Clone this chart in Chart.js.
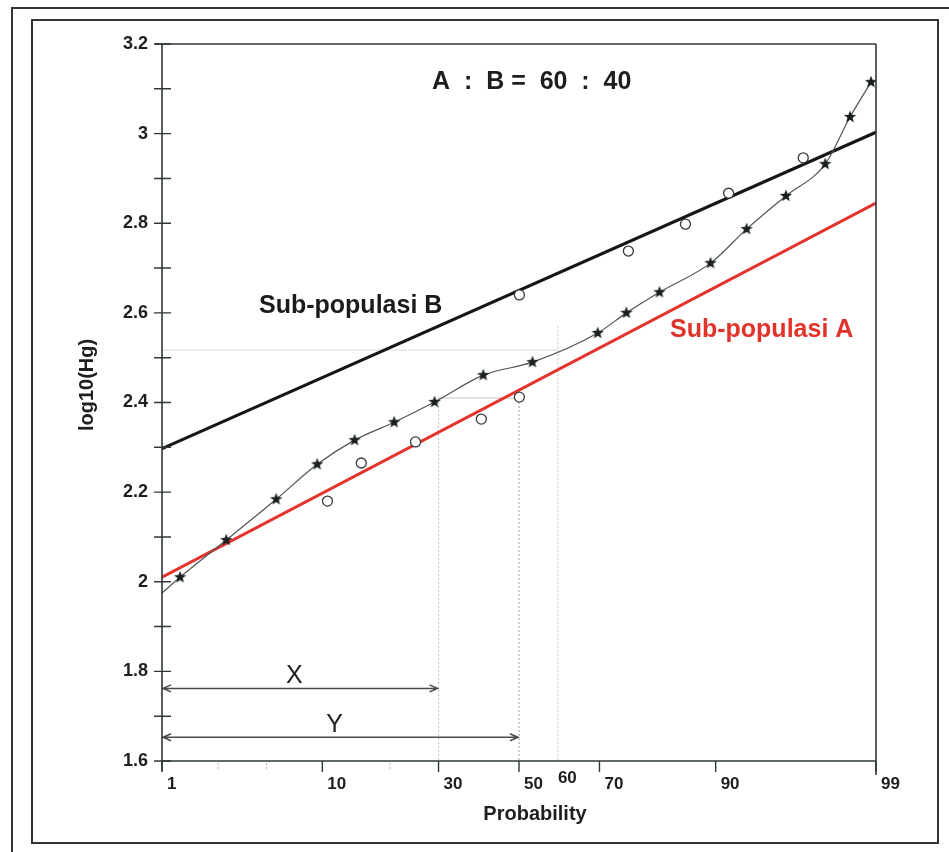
<!DOCTYPE html>
<html>
<head>
<meta charset="utf-8">
<title>Probability plot log10(Hg)</title>
<script src="https://cdn.jsdelivr.net/npm/chart.js@4.4.1/dist/chart.umd.min.js"></script>
<style>
    html, body { margin: 0; padding: 0; background: #ffffff; }
    #wrap { width: 949px; height: 852px; position: relative; }
</style>
</head>
<body>
<div id="wrap"><canvas id="probChart" width="949" height="852"></canvas></div>
<script>
// Observed data (stars) - probability in %, log10(Hg)
const starProb = [1.36, 2.82, 5.68, 9.43, 14.2, 20.8, 29.1, 40.8, 53.5, 69.6, 75.8, 82.0, 89.4, 93.1, 95.9, 97.7, 98.45, 98.91];
const starVal  = [2.01, 2.093, 2.184, 2.262, 2.316, 2.356, 2.401, 2.461, 2.49, 2.555, 2.60, 2.646, 2.711, 2.787, 2.861, 2.932, 3.037, 3.115];

// Open circles
const circleProb = [10.6, 15.2, 25.0, 40.3, 50.1, 50.1, 76.2, 86.1, 91.4, 96.8];
const circleVal  = [2.18, 2.265, 2.312, 2.363, 2.412, 2.64, 2.738, 2.798, 2.867, 2.946];

// Thin fitted curve through the stars
const curveProb = [1, 1.36, 2.82, 5.68, 9.43, 14.2, 20.8, 29.1, 40.8, 53.5, 69.6, 75.8, 82.0, 89.4, 93.1, 95.9, 97.7, 98.45, 98.91];
const curveVal  = [1.975, 2.01, 2.093, 2.184, 2.262, 2.316, 2.356, 2.401, 2.461, 2.49, 2.555, 2.60, 2.646, 2.711, 2.787, 2.861, 2.932, 3.037, 3.115];

// Sub-population straight lines
const lineProb = [1, 99];
const lineBVal = [2.297, 3.003];
const lineAVal = [2.01, 2.845];

// Axis ticks
const yMajor = [1.6, 1.8, 2, 2.2, 2.4, 2.6, 2.8, 3, 3.2];
const yMinor = [1.7, 1.9, 2.1, 2.3, 2.5, 2.7, 2.9, 3.1];
const xMajor = [1, 10, 30, 50, 70, 90, 99];
const xMinor = [2.5, 5, 20];
const xLabels = [1, 10, 30, 50, 60, 70, 90, 99];

// Guides and arrows (X to 30 %, Y to 50 %)
const guideProb = [30, 50, 60];
const guideTop = [2.41, 2.41, 2.57];
const arrowTo = [30, 50];
const arrowLevel = [1.762, 1.653];
const arrowText = ['X', 'Y'];

const FONT = '"Liberation Sans", Arial, sans-serif';

// inverse of the standard normal cdf (Acklam)
function probit(p) {
    const a = [-39.69683028665376, 220.9460984245205, -275.9285104469687, 138.3577518672690, -30.66479806614716, 2.506628277459239];
    const b = [-54.47609879822406, 161.5858368580409, -155.6989798598866, 66.80131188771972, -13.28068155288572];
    const c = [-0.007784894002430293, -0.3223964580411365, -2.400758277161838, -2.549732539343734, 4.374664141464968, 2.938163982698783];
    const d = [0.007784695709041462, 0.3224671290700398, 2.445134137142996, 3.754408661907416];
    const pl = 0.02425;
    let q, r;
    if (p < pl) {
        q = Math.sqrt(-2 * Math.log(p));
        return (((((c[0]*q+c[1])*q+c[2])*q+c[3])*q+c[4])*q+c[5]) / ((((d[0]*q+d[1])*q+d[2])*q+d[3])*q+1);
    }
    if (p > 1 - pl) {
        q = Math.sqrt(-2 * Math.log(1 - p));
        return -(((((c[0]*q+c[1])*q+c[2])*q+c[3])*q+c[4])*q+c[5]) / ((((d[0]*q+d[1])*q+d[2])*q+d[3])*q+1);
    }
    q = p - 0.5;
    r = q * q;
    return (((((a[0]*r+a[1])*r+a[2])*r+a[3])*r+a[4])*r+a[5])*q / (((((b[0]*r+b[1])*r+b[2])*r+b[3])*r+b[4])*r+1);
}

function toPoints(probs, vals) {
    return probs.map((p, i) => ({ x: probit(p / 100), y: vals[i] }));
}

// filled five point star used as point style
function makeStar(size, color) {
    const c = document.createElement('canvas');
    c.width = size; c.height = size;
    const g = c.getContext('2d');
    const cx = size / 2, cy = size / 2, R = size / 2 - 0.5, r = R * 0.42;
    g.beginPath();
    for (let i = 0; i < 10; i++) {
        const rad = i % 2 === 0 ? R : r;
        const ang = -Math.PI / 2 + i * Math.PI / 5;
        const px = cx + rad * Math.cos(ang), py = cy + rad * Math.sin(ang);
        if (i === 0) g.moveTo(px, py); else g.lineTo(px, py);
    }
    g.closePath();
    g.fillStyle = color;
    g.fill();
    return c;
}

const zMax = probit(0.99);

const decorPlugin = {
    id: 'decor',
    beforeDatasetsDraw(chart) {
        const ctx = chart.ctx;
        const xs = chart.scales.x, ys = chart.scales.y;
        const px = p => xs.getPixelForValue(probit(p / 100));
        const py = v => ys.getPixelForValue(v);
        ctx.save();
        // faint horizontal guides
        ctx.lineWidth = 1;
        ctx.strokeStyle = '#dcdcdc';
        ctx.beginPath();
        ctx.moveTo(px(1), py(2.517));
        ctx.lineTo(px(60), py(2.517));
        ctx.stroke();
        ctx.strokeStyle = '#c4c4c4';
        ctx.beginPath();
        ctx.moveTo(px(30), py(2.41));
        ctx.lineTo(px(50), py(2.41));
        ctx.stroke();
        // dotted verticals
        ctx.setLineDash([2, 2]);
        guideProb.forEach((p, i) => {
            ctx.strokeStyle = p === 50 ? '#9a9a9a' : '#c0c0c0';
            ctx.beginPath();
            ctx.moveTo(px(p), py(guideTop[i]));
            ctx.lineTo(px(p), py(1.6));
            ctx.stroke();
        });
        ctx.setLineDash([]);
        // X / Y arrows
        ctx.strokeStyle = '#4a4a4a';
        ctx.fillStyle = '#222';
        ctx.lineWidth = 1.5;
        arrowTo.forEach((p, i) => {
            const x0 = px(1) + 1, x1 = px(p) - 1, y = py(arrowLevel[i]);
            ctx.beginPath();
            ctx.moveTo(x0, y); ctx.lineTo(x1, y);
            ctx.moveTo(x0 + 8, y - 3.5); ctx.lineTo(x0, y); ctx.lineTo(x0 + 8, y + 3.5);
            ctx.moveTo(x1 - 8, y - 3.5); ctx.lineTo(x1, y); ctx.lineTo(x1 - 8, y + 3.5);
            ctx.stroke();
            ctx.font = '25px ' + FONT;
            ctx.textAlign = 'center';
            ctx.textBaseline = 'alphabetic';
            ctx.fillText(arrowText[i], (x0 + x1) / 2 - 6, y - 5);
        });
        ctx.restore();
    },
    afterDraw(chart) {
        const ctx = chart.ctx;
        const xs = chart.scales.x, ys = chart.scales.y;
        const px = p => xs.getPixelForValue(probit(p / 100));
        const py = v => ys.getPixelForValue(v);
        const area = chart.chartArea;
        ctx.save();

        // outer frames
        ctx.strokeStyle = '#333';
        ctx.lineWidth = 2;
        ctx.strokeRect(32, 20, 906, 823);
        ctx.beginPath();
        ctx.moveTo(12, 852); ctx.lineTo(12, 8); ctx.lineTo(949, 8);
        ctx.stroke();

        // plot box and axes
        ctx.strokeStyle = '#2e3838';
        ctx.lineWidth = 1.6;
        ctx.beginPath();
        ctx.moveTo(area.left - 7, area.top); ctx.lineTo(area.right, area.top);
        ctx.moveTo(area.right, area.top); ctx.lineTo(area.right, area.bottom + 14);
        ctx.moveTo(area.left, area.top); ctx.lineTo(area.left, area.bottom + 10);
        ctx.moveTo(area.left, area.bottom); ctx.lineTo(area.right, area.bottom);
        ctx.stroke();

        // y ticks crossing the axis
        ctx.lineWidth = 1.4;
        ctx.beginPath();
        yMajor.concat(yMinor).forEach(v => {
            ctx.moveTo(area.left - 8, py(v));
            ctx.lineTo(area.left + 9, py(v));
        });
        ctx.stroke();

        ctx.fillStyle = '#1e1e1e';
        ctx.font = 'bold 18px ' + FONT;
        ctx.textAlign = 'right';
        ctx.textBaseline = 'middle';
        yMajor.forEach(v => ctx.fillText(String(v), area.left - 14, py(v)));

        // x ticks
        ctx.beginPath();
        xMajor.forEach(p => {
            ctx.moveTo(px(p), area.bottom);
            ctx.lineTo(px(p), area.bottom + 11);
        });
        ctx.stroke();
        ctx.strokeStyle = '#b5b5b5';
        ctx.lineWidth = 1;
        ctx.setLineDash([2, 2]);
        ctx.beginPath();
        xMinor.forEach(p => {
            ctx.moveTo(px(p), area.bottom + 2);
            ctx.lineTo(px(p), area.bottom + 10);
        });
        ctx.stroke();
        ctx.setLineDash([]);

        ctx.font = 'bold 17px ' + FONT;
        ctx.textAlign = 'left';
        xLabels.forEach(p => {
            const y = p === 60 ? area.bottom + 17 : area.bottom + 23;
            const off = p === 60 ? 0 : 5;
            ctx.fillText(String(p), px(p) + off, y);
        });

        // axis titles
        ctx.font = 'bold 20px ' + FONT;
        ctx.textAlign = 'center';
        ctx.fillText('Probability', 535, 814);
        ctx.save();
        ctx.translate(87, 385);
        ctx.rotate(-Math.PI / 2);
        ctx.fillText('log10(Hg)', 0, 0);
        ctx.restore();

        // annotations
        ctx.textAlign = 'left';
        ctx.textBaseline = 'alphabetic';
        ctx.font = 'bold 25px ' + FONT;
        ctx.fillText('A  :  B =  60  :  40', 432, 89);
        ctx.fillStyle = '#1b1b1b';
        ctx.fillText('Sub-populasi B', 259, 313);
        ctx.fillStyle = '#e2332b';
        ctx.fillText('Sub-populasi A', 670, 337);

        ctx.restore();
    }
};

document.addEventListener('DOMContentLoaded', function() {
    const canvas = document.getElementById('probChart');
    if (typeof Chart === 'undefined') {
        console.error('Chart.js is not loaded');
        return;
    }

    new Chart(canvas, {
        type: 'scatter',
        data: {
            datasets: [
                {
                    label: 'Sub-populasi B',
                    type: 'line',
                    data: toPoints(lineProb, lineBVal),
                    borderColor: '#161616',
                    borderWidth: 3.2,
                    pointRadius: 0,
                    fill: false,
                    order: 4
                },
                {
                    label: 'Sub-populasi A',
                    type: 'line',
                    data: toPoints(lineProb, lineAVal),
                    borderColor: '#e5322c',
                    borderWidth: 3,
                    pointRadius: 0,
                    fill: false,
                    order: 3
                },
                {
                    label: 'curve',
                    type: 'line',
                    data: toPoints(curveProb, curveVal),
                    borderColor: '#4d5656',
                    borderWidth: 1.2,
                    cubicInterpolationMode: 'monotone',
                    pointRadius: 0,
                    fill: false,
                    order: 2
                },
                {
                    label: 'stars',
                    data: toPoints(starProb, starVal),
                    pointStyle: makeStar(14, '#1a1f1f'),
                    pointRadius: 7,
                    order: 1
                },
                {
                    label: 'circles',
                    data: toPoints(circleProb, circleVal),
                    pointStyle: 'circle',
                    pointRadius: 5,
                    backgroundColor: '#ffffff',
                    borderColor: '#333b3b',
                    borderWidth: 1.3,
                    order: 0
                }
            ]
        },
        options: {
            responsive: false,
            devicePixelRatio: 1,
            animation: false,
            layout: { padding: { left: 162, right: 73, top: 44, bottom: 91 } },
            plugins: {
                legend: { display: false },
                tooltip: { enabled: false }
            },
            scales: {
                x: { type: 'linear', min: -zMax, max: zMax, display: false },
                y: { type: 'linear', min: 1.6, max: 3.2, display: false }
            }
        },
        plugins: [decorPlugin]
    });
});
</script>
</body>
</html>
